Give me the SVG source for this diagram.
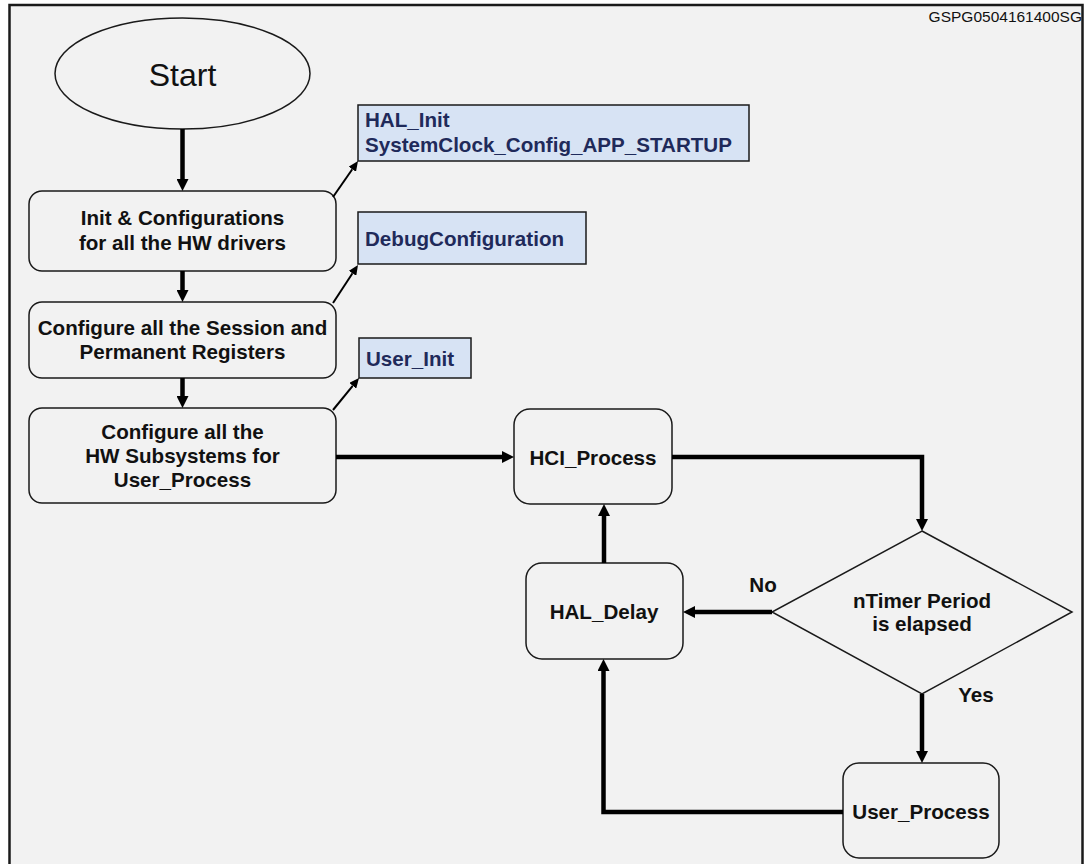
<svg xmlns="http://www.w3.org/2000/svg" width="1086" height="864" viewBox="0 0 1086 864">
<defs>
<style>
.bg{fill:#f2f2f2;stroke:#1a1a1a;stroke-width:2.5}
.box{fill:#f2f2f2;stroke:#1a1a1a;stroke-width:1.5}
.blue{fill:#d7e3f4;stroke:#1a1a1a;stroke-width:1.5}
.t{font-family:"Liberation Sans",Arial,sans-serif;font-weight:bold;font-size:20.6px;fill:#111;text-anchor:middle}
.bt{font-family:"Liberation Sans",Arial,sans-serif;font-weight:bold;font-size:20.6px;fill:#1f2a5a}
.thick{fill:none;stroke:#000;stroke-width:4.5;marker-end:url(#ah)}
.thin{fill:none;stroke:#000;stroke-width:2;marker-end:url(#ahs)}
</style>
<marker id="ah" markerUnits="userSpaceOnUse" markerWidth="13" markerHeight="12" refX="0" refY="6" orient="auto">
<path d="M0,0 L12,6 L0,12 z" fill="#000"/>
</marker>
<marker id="ahs" markerUnits="userSpaceOnUse" markerWidth="11" markerHeight="9" refX="0" refY="4.5" orient="auto">
<path d="M0,0 L10,4.5 L0,9 z" fill="#000"/>
</marker>
</defs>
<rect class="bg" x="9.5" y="5" width="1073" height="880"/>
<text x="1082" y="22" font-family="'Liberation Sans',Arial,sans-serif" font-size="15.5" text-anchor="end" fill="#111">GSPG0504161400SG</text>

<g id="start">
<ellipse class="box" cx="182.5" cy="73.5" rx="127.5" ry="55.5"/>
<text x="182.5" y="86" font-family="'Liberation Sans',Arial,sans-serif" font-size="32" text-anchor="middle" fill="#111">Start</text>
</g>
<g id="init">
<rect class="box" x="29" y="191" width="307" height="80" rx="13"/>
<text class="t" x="182.5" y="225">Init &amp; Configurations</text>
<text class="t" x="182.5" y="250">for all the HW drivers</text>
</g>
<g id="session">
<rect class="box" x="29" y="302" width="307" height="76" rx="13"/>
<text class="t" x="182.5" y="335">Configure all the Session and</text>
<text class="t" x="182.5" y="359">Permanent Registers</text>
</g>
<g id="subsys">
<rect class="box" x="29" y="408" width="307" height="95" rx="13"/>
<text class="t" x="182.5" y="439">Configure all the</text>
<text class="t" x="182.5" y="463">HW Subsystems for</text>
<text class="t" x="182.5" y="487">User_Process</text>
</g>
<g id="halinit">
<rect class="blue" x="358" y="105" width="391" height="56"/>
<text class="bt" x="365" y="127">HAL_Init</text>
<text class="bt" x="365" y="152">SystemClock_Config_APP_STARTUP</text>
</g>
<g id="debug">
<rect class="blue" x="358" y="212" width="228" height="52"/>
<text class="bt" x="365" y="246">DebugConfiguration</text>
</g>
<g id="userinit">
<rect class="blue" x="359" y="338" width="112" height="40"/>
<text class="bt" x="366" y="366">User_Init</text>
</g>
<g id="hci">
<rect class="box" x="514" y="409" width="158" height="95" rx="16"/>
<text class="t" x="593" y="465">HCI_Process</text>
</g>
<g id="haldelay">
<rect class="box" x="526" y="563" width="157" height="96" rx="16"/>
<text class="t" x="604" y="619">HAL_Delay</text>
</g>
<g id="decision">
<polygon class="box" points="922,531 1072,612 922,694 772,612"/>
<text class="t" x="922" y="608">nTimer Period</text>
<text class="t" x="922" y="631">is elapsed</text>
</g>
<g id="userprocess">
<rect class="box" x="843" y="763" width="156" height="95" rx="16"/>
<text class="t" x="921" y="819">User_Process</text>
</g>

<g id="connectors">
<path class="thick" d="M182.5,129 V179"/>
<path class="thick" d="M182.5,271 V290"/>
<path class="thick" d="M182.5,378 V396"/>
<path class="thick" d="M336,457 H502"/>
<path class="thick" d="M672,457 H922 V519"/>
<path class="thick" d="M772,612 H695"/>
<path class="thick" d="M604,563 V516"/>
<path class="thick" d="M922,694 V751"/>
<path class="thick" d="M843,812 H603.5 V671"/>
<path class="thin" d="M333,197 L352.3,169.2"/>
<path class="thin" d="M333,303 L352.5,273.3"/>
<path class="thin" d="M333,410 L352.7,385.8"/>
<text class="t" x="763" y="592">No</text>
<text class="t" x="976" y="702">Yes</text>
</g>
</svg>
